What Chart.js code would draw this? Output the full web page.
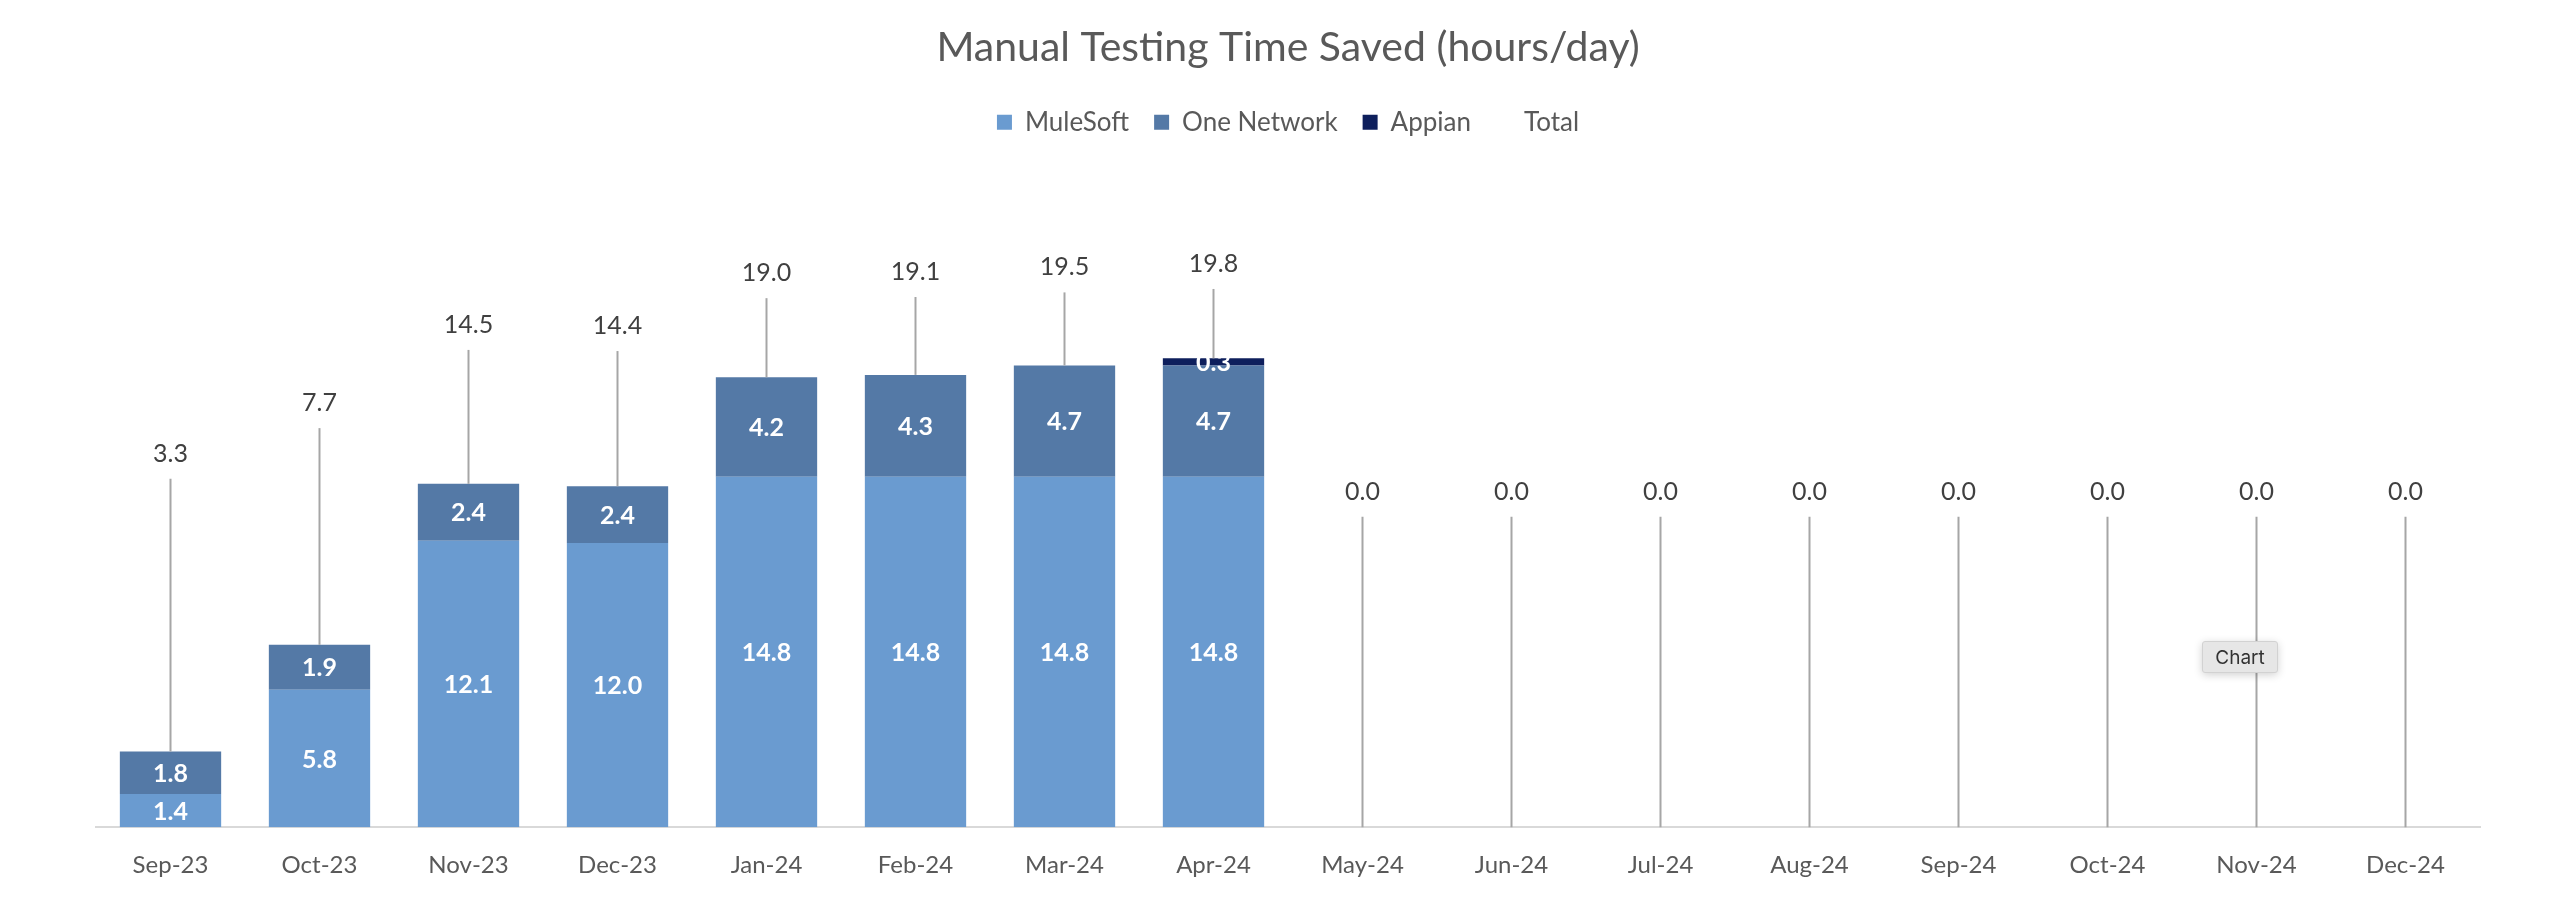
<!DOCTYPE html>
<html>
<head>
<meta charset="utf-8">
<script src="https://cdn.jsdelivr.net/npm/chart.js@4.4.0/dist/chart.umd.min.js"></script>
<style>
  html, body { margin: 0; padding: 0; background: #ffffff; }
  #wrap { position: relative; width: 2560px; height: 916px; }
  #tip {
    position: absolute; left: 2202px; top: 641px; width: 76px; height: 32px;
    background: #e6e6e6; border: 1px solid #d2d2d2; border-radius: 3px;
    box-shadow: 0 2px 8px rgba(0,0,0,0.18);
    font: 19px Inter, "Liberation Sans", sans-serif; color: #333;
    line-height: 32px; text-align: center; box-sizing: border-box;
  }
</style>
</head>
<body>
<div id="wrap">
  <canvas id="chart"></canvas>
  <div id="tip">Chart</div>
</div>
<script>
// ---- data ----
const months = ["Sep-23", "Oct-23", "Nov-23", "Dec-23", "Jan-24", "Feb-24", "Mar-24", "Apr-24",
                "May-24", "Jun-24", "Jul-24", "Aug-24", "Sep-24", "Oct-24", "Nov-24", "Dec-24"];
const mulesoft   = [1.4, 5.8, 12.1, 12.0, 14.8, 14.8, 14.8, 14.8, null, null, null, null, null, null, null, null];
const oneNetwork = [1.8, 1.9, 2.4, 2.4, 4.2, 4.3, 4.7, 4.7, null, null, null, null, null, null, null, null];
const appian     = [null, null, null, null, null, null, null, 0.3, null, null, null, null, null, null, null, null];
const totals     = [3.3, 7.7, 14.5, 14.4, 19.0, 19.1, 19.5, 19.8, 0, 0, 0, 0, 0, 0, 0, 0];

const FONT = "Lato, 'Open Sans', sans-serif";

// draws the segment labels, and the total labels with their leader lines
const labelPlugin = {
  id: "labelPlugin",
  afterDatasetsDraw(chart) {
    const ctx = chart.ctx;
    const yScale = chart.scales.y;
    ctx.save();
    ctx.textAlign = "center";
    ctx.textBaseline = "middle";

    ctx.font = "bold 25px " + FONT;
    chart.data.datasets.forEach((ds, di) => {
      const meta = chart.getDatasetMeta(di);
      if (ds.type === "line") return;
      meta.data.forEach((bar, i) => {
        const v = ds.data[i];
        if (v == null) return;
        const p = bar.getProps(["x", "y", "base"], true);
        ctx.fillStyle = "#ffffff";
        ctx.fillText(v.toFixed(1), p.x, (p.y + p.base) / 2 + 1);
      });
    });

    // totals
    ctx.font = "25px " + FONT;
    const totIdx = chart.data.datasets.findIndex(d => d.type === "line");
    const totMeta = chart.getDatasetMeta(totIdx);
    totMeta.data.forEach((pt, i) => {
      // top of the stack at this month
      let stackTop = yScale.getPixelForValue(0);
      chart.data.datasets.forEach((ds, di) => {
        if (ds.type === "line") return;
        const b = chart.getDatasetMeta(di).data[i];
        if (ds.data[i] != null) stackTop = Math.min(stackTop, b.y);
      });
      ctx.strokeStyle = "#a6a6a6";
      ctx.lineWidth = 2;
      ctx.beginPath();
      ctx.moveTo(pt.x, pt.y);
      ctx.lineTo(pt.x, stackTop);
      ctx.stroke();
      ctx.fillStyle = "#404040";
      ctx.fillText(totals[i].toFixed(1), pt.x, pt.y - 25);
    });
    ctx.restore();
  }
};

new Chart(document.getElementById("chart"), {
  type: "bar",
  data: {
    labels: months,
    datasets: [
      { label: "MuleSoft", data: mulesoft, backgroundColor: "#6a9bd0", stack: "s1", yAxisID: "y" },
      { label: "One Network", data: oneNetwork, backgroundColor: "#5479a6", stack: "s1", yAxisID: "y" },
      { label: "Appian", data: appian, backgroundColor: "#0e1f5c", stack: "s1", yAxisID: "y" },
      { label: "Total", type: "line", data: totals, yAxisID: "y2", showLine: false,
        pointRadius: 0, backgroundColor: "rgba(0,0,0,0)", borderColor: "rgba(0,0,0,0)" }
    ]
  },
  options: {
    responsive: true,
    maintainAspectRatio: false,
    animation: false,
    layout: { padding: { left: 96, right: 80, top: 0, bottom: 20 } },
    datasets: { bar: { categoryPercentage: 1.0, barPercentage: 0.68 } },
    plugins: {
      title: {
        display: true,
        text: "Manual Testing Time Saved (hours/day)",
        color: "#595959",
        font: { family: FONT, size: 41, weight: "normal" },
        padding: { top: 23, bottom: 12 }
      },
      legend: {
        position: "top",
        labels: {
          color: "#595959",
          font: { family: FONT, size: 26 },
          boxWidth: 15, boxHeight: 15,
          padding: 25
        }
      },
      tooltip: { enabled: false }
    },
    scales: {
      x: {
        stacked: true,
        grid: { display: false },
        border: { display: true, color: "#d9d9d9", width: 2 },
        ticks: { color: "#595959", font: { family: FONT, size: 24 }, padding: 16, maxRotation: 0 }
      },
      y: {
        stacked: true, display: false, min: 0, max: 28.8
      },
      y2: {
        display: false, min: -27, max: 32.3
      }
    }
  },
  plugins: [labelPlugin]
});
</script>
</body>
</html>
